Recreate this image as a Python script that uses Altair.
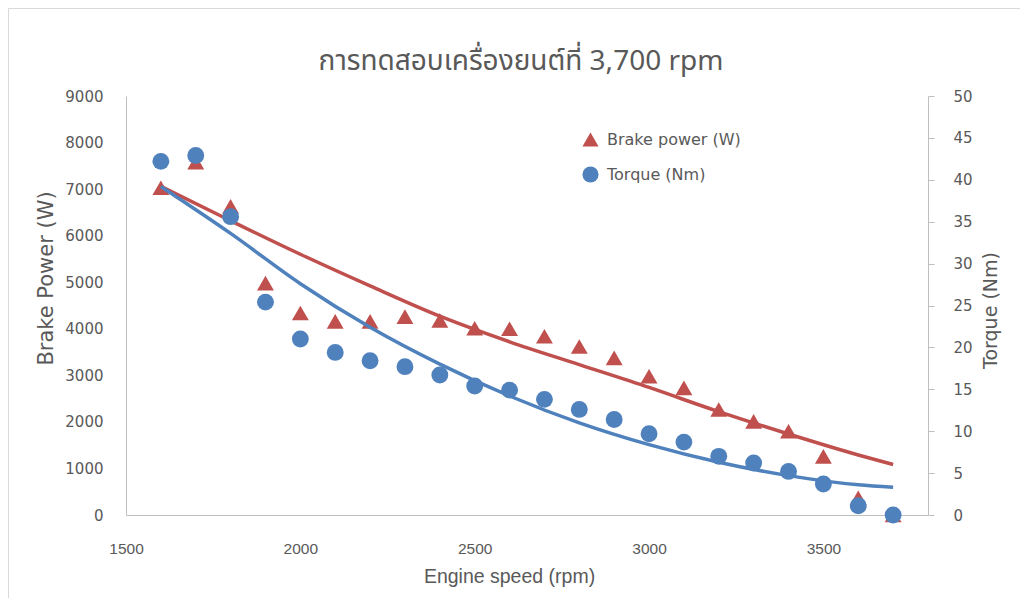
import altair as alt
import pandas as pd

rpm = [1600, 1700, 1800, 1900, 2000, 2100, 2200, 2300, 2400, 2500, 2600,
       2700, 2800, 2900, 3000, 3100, 3200, 3300, 3400, 3500, 3600, 3700]
power = [7030, 7580, 6630, 4980, 4340, 4160, 4160, 4260, 4180, 4010, 4000,
         3840, 3620, 3375, 2980, 2730, 2265, 2010, 1800, 1260, 370, 0]
torque = [42.2, 42.9, 35.6, 25.4, 21.0, 19.4, 18.4, 17.7, 16.7, 15.4, 14.9,
          13.8, 12.6, 11.4, 9.7, 8.7, 7.0, 6.2, 5.2, 3.7, 1.1, 0.0]

# trendlines
trend_rpm = [1600, 1800, 2000, 2200, 2400, 2600, 2800, 3000, 3200, 3400, 3600, 3700]
power_trend = [7060, 6320, 5600, 4920, 4270, 3720, 3230, 2740, 2220, 1740, 1290, 1085]
torque_trend = [39.2, 33.6, 27.6, 22.4, 18.0, 14.2, 11.0, 8.4, 6.3, 4.7, 3.6, 3.3]

series_names = ["Brake power (W)", "Torque (Nm)"]
x_ticks = [1500, 2000, 2500, 3000, 3500]
power_ticks = list(range(0, 9001, 1000))
torque_ticks = list(range(0, 51, 5))

RED = "#C0504D"
BLUE = "#4F81BD"
GREY = "#595959"
LINE = "#BFBFBF"

df = pd.DataFrame({"rpm": rpm, "power": power, "torque": torque})
trend_df = pd.DataFrame({"rpm": trend_rpm, "power": power_trend, "torque": torque_trend})

x_enc = alt.X(
    "rpm:Q",
    scale=alt.Scale(domain=[1500, 3800], nice=False, zero=False),
    axis=alt.Axis(
        values=x_ticks, format="d", grid=False, ticks=False, labelFlush=False,
        domainColor=LINE, domainWidth=1,
        labelFont="Liberation Sans", labelFontSize=15.5, labelColor=GREY,
        labelPadding=26,
        title="Engine speed (rpm)", titleFont="Liberation Sans",
        titleFontSize=19.5, titleFontWeight="normal", titleColor=GREY,
        titlePadding=11, titleX=383,
    ),
)

left_axis = alt.Axis(
    values=power_ticks, format="d", grid=False, ticks=False, orient="left",
    domainColor=LINE, domainWidth=1,
    labelFont="DejaVu Sans", labelFontSize=15, labelColor=GREY, labelPadding=23,
    title="Brake Power (W)", titleFont="DejaVu Sans", titleFontSize=21,
    titleFontWeight="normal", titleColor=GREY, titlePadding=8, titleY=182,
)
right_axis = alt.Axis(
    values=torque_ticks, format="d", grid=False, ticks=True, orient="right",
    tickColor=LINE, tickSize=6, domainColor=LINE, domainWidth=1,
    labelFont="DejaVu Sans", labelFontSize=15, labelColor=GREY, labelPadding=19,
    title="Torque (Nm)", titleFont="DejaVu Sans", titleFontSize=19,
    titleFontWeight="normal", titleColor=GREY, titlePadding=28, titleAngle=270,
    titleY=214,
)
p_scale = alt.Scale(domain=[0, 9000], nice=False)
t_scale = alt.Scale(domain=[0, 50], nice=False)

legend = alt.Legend(
    title=None, orient="none", legendX=456, legendY=35, padding=0,
    symbolSize=260, rowPadding=18, labelOffset=8,
    labelFont="DejaVu Sans", labelFontSize=16, labelColor=GREY,
    symbolStrokeWidth=0,
)
color_enc = alt.Color(
    "series:N", scale=alt.Scale(domain=series_names, range=[RED, BLUE]), legend=legend
)
shape_enc = alt.Shape(
    "series:N", scale=alt.Scale(domain=series_names, range=["triangle-up", "circle"]),
    legend=legend,
)

base = alt.Chart(df)
tbase = alt.Chart(trend_df)

p_pts = base.transform_calculate(series="'Brake power (W)'").mark_point(
    filled=True, opacity=1, size=285, strokeWidth=0
).encode(
    x=x_enc, y=alt.Y("power:Q", scale=p_scale, axis=left_axis),
    color=color_enc, shape=shape_enc,
)
p_line = tbase.mark_line(color=RED, strokeWidth=3.5, interpolate="monotone").encode(
    x=x_enc, y=alt.Y("power:Q", scale=p_scale, axis=left_axis)
)

t_pts = base.transform_calculate(series="'Torque (Nm)'").mark_point(
    filled=True, opacity=1, size=285, strokeWidth=0
).encode(
    x=x_enc, y=alt.Y("torque:Q", scale=t_scale, axis=right_axis),
    color=color_enc, shape=shape_enc,
)
t_line = tbase.mark_line(color=BLUE, strokeWidth=3.5, interpolate="monotone").encode(
    x=x_enc, y=alt.Y("torque:Q", scale=t_scale, axis=right_axis)
)

left = alt.layer(p_pts, p_line)
right = alt.layer(t_pts, t_line)

frame = alt.Chart(pd.DataFrame({"f": [0]})).mark_rect(
    fill="transparent", stroke="#D9D9D9", strokeWidth=1
).encode(
    x=alt.value(-117.5), y=alt.value(-87.5),
    x2=alt.value(1200), y2=alt.value(1200),
)

chart = alt.layer(frame, left, right).resolve_scale(
    y="independent"
).properties(
    width=802, height=419,
    padding={"left": 118, "top": 88, "right": 92, "bottom": 83},
    autosize=alt.AutoSizeParams(type="none"),
    title=alt.TitleParams(
        "การทดสอบเครื่องยนต์ที่ 3,700 rpm",
        font="Noto Sans Thai, Noto Sans, DejaVu Sans, sans-serif",
        fontSize=28, fontWeight="normal", color=GREY,
        anchor="middle", frame="group", offset=0, dy=96, dx=-6, baseline="bottom",
    ),
).configure_view(strokeWidth=0)

chart.save("out.html", embed_options={"renderer": "svg", "actions": False})
